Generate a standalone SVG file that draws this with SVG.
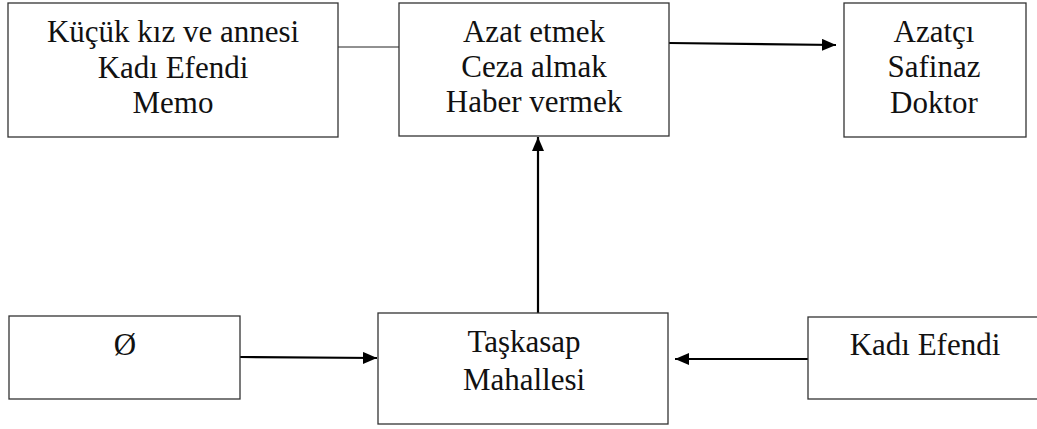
<svg xmlns="http://www.w3.org/2000/svg" width="1037" height="429" viewBox="0 0 1037 429">
  <style>
    .box { fill: #ffffff; stroke: #333333; stroke-width: 1.3; }
    .lbl { font-size: 31px; fill: #111111; text-anchor: middle; }
    .edge { stroke: #000000; stroke-width: 2.2; fill: none; }
    .thin { stroke: #222222; stroke-width: 1; fill: none; }
  </style>
  <defs>
    <marker id="head" viewBox="0 0 14 12" refX="14" refY="6" markerWidth="14" markerHeight="12" markerUnits="userSpaceOnUse" orient="auto">
      <path d="M0,0 L14,6 L0,12 Z" fill="#000000"/>
    </marker>
  </defs>
  <rect width="1037" height="429" fill="#ffffff"/>

  <g id="connectors">
    <line class="thin" x1="338" y1="47" x2="399" y2="47"/>
    <line class="edge" x1="669" y1="43" x2="836" y2="45" marker-end="url(#head)"/>
    <line class="edge" x1="538" y1="313" x2="538" y2="137" marker-end="url(#head)"/>
    <line class="edge" x1="240" y1="357" x2="377" y2="358" marker-end="url(#head)"/>
    <line class="edge" x1="808" y1="359" x2="675" y2="359" marker-end="url(#head)"/>
  </g>

  <g font-family="Liberation Serif, Times New Roman, serif">
    <g id="node-characters">
      <rect class="box" x="8" y="3" width="330" height="134"/>
      <text class="lbl" x="173" y="42">Küçük kız ve annesi</text>
      <text class="lbl" x="173" y="78">Kadı Efendi</text>
      <text class="lbl" x="173" y="113">Memo</text>
    </g>

    <g id="node-actions">
      <rect class="box" x="399" y="3" width="270" height="133"/>
      <text class="lbl" x="534" y="42">Azat etmek</text>
      <text class="lbl" x="534" y="77">Ceza almak</text>
      <text class="lbl" x="534" y="112">Haber vermek</text>
    </g>

    <g id="node-receivers">
      <rect class="box" x="844" y="3" width="182" height="134"/>
      <text class="lbl" x="934" y="42">Azatçı</text>
      <text class="lbl" x="934" y="77">Safinaz</text>
      <text class="lbl" x="934" y="113">Doktor</text>
    </g>

    <g id="node-empty">
      <rect class="box" x="9" y="316" width="231" height="83"/>
      <text class="lbl" x="125" y="355">Ø</text>
    </g>

    <g id="node-place">
      <rect class="box" x="378" y="313" width="290" height="111"/>
      <text class="lbl" x="524" y="352">Taşkasap</text>
      <text class="lbl" x="524" y="390">Mahallesi</text>
    </g>

    <g id="node-judge">
      <rect class="box" x="808" y="317" width="236" height="82"/>
      <text class="lbl" x="925" y="355">Kadı Efendi</text>
    </g>
  </g>
</svg>
